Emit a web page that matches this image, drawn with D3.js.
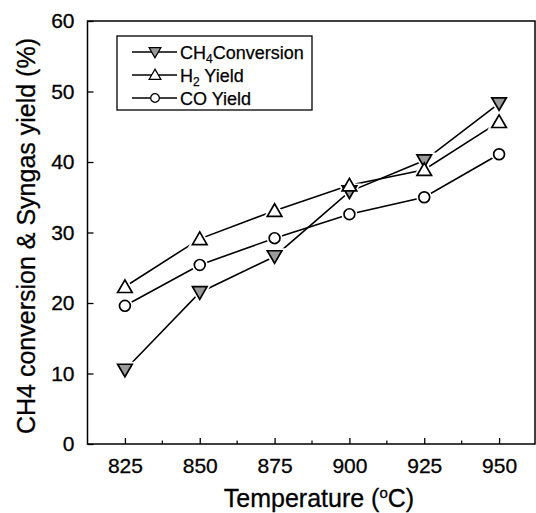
<!DOCTYPE html>
<html><head><meta charset="utf-8">
<script src="https://cdn.jsdelivr.net/npm/d3@7/dist/d3.min.js"></script>
<style>body{margin:0;background:#fff}svg{display:block}text{font-family:"Liberation Sans",Arial,sans-serif;fill:#000}</style>
</head><body><svg id="c" width="536" height="513"></svg>
<script>
const temperatures = [825, 850, 875, 900, 925, 950];
const ch4Conversion = [10.5, 21.5, 26.6, 35.8, 40.2, 48.3];
const h2Yield = [22.3, 29.1, 33.1, 36.7, 38.9, 45.7];
const coYield = [19.6, 25.4, 29.2, 32.6, 35.0, 41.1];
const xTicks = [825, 850, 875, 900, 925, 950];
const yTicks = [0, 10, 20, 30, 40, 50, 60];
const seriesNames = ["CH4Conversion", "H2 Yield", "CO Yield"];

const svg = d3.select("#c");
const L = 87.5, R = 535, T = 21, B = 444;
const x = d3.scaleLinear().domain([812.5, 962]).range([L, R]);
const y = d3.scaleLinear().domain([0, 60]).range([B, T]);

// frame
svg.append("rect").attr("x", L).attr("y", T).attr("width", R - L).attr("height", B - T)
  .attr("fill", "none").attr("stroke", "#000").attr("stroke-width", 1.5);

// x axis
const xAxis = d3.axisBottom(x).tickValues(xTicks).tickSizeInner(-6).tickSizeOuter(0).tickPadding(14);
const gx = svg.append("g").attr("transform", `translate(0,${B})`).call(xAxis);
gx.select(".domain").remove();
gx.selectAll("line").attr("stroke-width", 1.3);
gx.selectAll("text").attr("font-size", 21).attr("font-family", "Liberation Sans, Arial, sans-serif")
  .attr("stroke", "#000").attr("stroke-width", 0.3);
const xMinor = d3.range(837.5, 962, 25);
svg.append("g").selectAll("line").data(xMinor).join("line")
  .attr("x1", d => x(d)).attr("x2", d => x(d)).attr("y1", B).attr("y2", B - 3.5)
  .attr("stroke", "#000").attr("stroke-width", 1.2);

// y axis
const yAxis = d3.axisLeft(y).tickValues(yTicks).tickSizeInner(-6).tickSizeOuter(0).tickPadding(13);
const gy = svg.append("g").attr("transform", `translate(${L},0)`).call(yAxis);
gy.select(".domain").remove();
gy.selectAll("line").attr("stroke-width", 1.3);
gy.selectAll("text").attr("font-size", 21).attr("font-family", "Liberation Sans, Arial, sans-serif")
  .attr("stroke", "#000").attr("stroke-width", 0.3);

// titles
const xt = svg.append("text").attr("x", 319).attr("y", 507).attr("text-anchor", "middle").attr("font-size", 25)
  .attr("stroke", "#000").attr("stroke-width", 0.3);
xt.append("tspan").text("Temperature (");
xt.append("tspan").attr("font-size", 15).attr("dy", -9).text("o");
xt.append("tspan").attr("dy", 9).text("C)");

svg.append("text").attr("transform", "translate(35,236) rotate(-90)").attr("text-anchor", "middle")
  .attr("font-size", 25).attr("stroke", "#000").attr("stroke-width", 0.3)
  .text("CH4 conversion & Syngas yield (%)");

// symbols
const tri = d3.symbol().type(d3.symbolTriangle).size(92);
const circ = d3.symbol().type(d3.symbolCircle).size(92);
const series = [
  {name: seriesNames[0], vals: ch4Conversion, sym: tri, rot: 180, dy: -1.5, fill: "#9a9a9a"},
  {name: seriesNames[1], vals: h2Yield, sym: tri, rot: 0, dy: 1.5, fill: "#fff"},
  {name: seriesNames[2], vals: coYield, sym: circ, rot: 0, dy: 0, fill: "#fff"}
];
const line = d3.line().x(d => x(d[0])).y(d => y(d[1]));

series.forEach(s => {
  const pts = temperatures.map((t, i) => [t, s.vals[i]]);
  svg.append("path").attr("d", line(pts)).attr("fill", "none").attr("stroke", "#000").attr("stroke-width", 1.6);
});
// white halos to leave small gaps between lines and markers
series.forEach(s => {
  const pts = temperatures.map((t, i) => [t, s.vals[i]]);
  svg.append("g").selectAll("path").data(pts).join("path")
    .attr("d", s.sym())
    .attr("transform", d => `translate(${x(d[0])},${y(d[1]) + s.dy}) rotate(${s.rot})`)
    .attr("fill", "#fff").attr("stroke", "#fff").attr("stroke-width", 5);
});
series.forEach(s => {
  const pts = temperatures.map((t, i) => [t, s.vals[i]]);
  svg.append("g").selectAll("path").data(pts).join("path")
    .attr("d", s.sym())
    .attr("transform", d => `translate(${x(d[0])},${y(d[1]) + s.dy}) rotate(${s.rot})`)
    .attr("fill", s.fill).attr("stroke", "#000").attr("stroke-width", 1.7);
});

// legend
const lg = svg.append("g");
lg.append("rect").attr("x", 117).attr("y", 36).attr("width", 195).attr("height", 74)
  .attr("fill", "#fff").attr("stroke", "#000").attr("stroke-width", 1.3);
const rowY = [52, 75, 98];
series.forEach((s, i) => {
  const yy = rowY[i];
  lg.append("line").attr("x1", 132).attr("x2", 177).attr("y1", yy).attr("y2", yy).attr("stroke", "#000").attr("stroke-width", 1.5);
  lg.append("path").attr("d", s.sym()).attr("transform", `translate(155,${yy + s.dy * 0.6}) rotate(${s.rot}) scale(0.8)`)
    .attr("fill", s.fill).attr("stroke", "#000").attr("stroke-width", 1.6);
  const t = lg.append("text").attr("x", 180).attr("y", yy + 6.5).attr("font-size", 18)
    .attr("stroke", "#000").attr("stroke-width", 0.25);
  if (i === 0) {
    t.append("tspan").text("CH");
    t.append("tspan").attr("font-size", 12).attr("dy", 4).text("4");
    t.append("tspan").attr("dy", -4).text("Conversion");
  } else if (i === 1) {
    t.append("tspan").text("H");
    t.append("tspan").attr("font-size", 12).attr("dy", 4).text("2");
    t.append("tspan").attr("dy", -4).text(" Yield");
  } else {
    t.text("CO Yield");
  }
});
</script></body></html>
